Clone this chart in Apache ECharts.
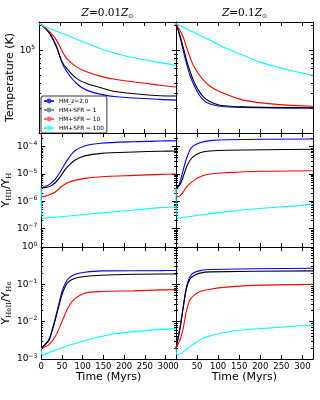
<!DOCTYPE html>
<html><head><meta charset="utf-8">
<script src="https://cdn.jsdelivr.net/npm/echarts@6/dist/echarts.min.js"></script>
<style>html,body{margin:0;padding:0;background:#fff}#c{width:320px;height:400px}</style>
</head><body><div id="c"></div>
<script>
const seriesNames = ['HM_z=2.0', 'HM+SFR = 1', 'HM+SFR = 10', 'HM+SFR = 100'];
const seriesColors = ['#0000ff', '#000000', '#ff0000', '#00ffff'];
const legendColors = ['#3333ff', '#8a8a8a', '#ff6a6a', '#44ffff'];
const xTickLabels = [0, 50, 100, 150, 200, 250, 300];

// Temperature (K), Z = 0.01 Zsun
const tempLow_HM    = [[0,2.1e5],[10,1.95e5],[26,1.58e5],[42,1.09e5],[54,7.2e4],[66,5.5e4],[89,3.97e4],[113,3.3e4],[145,2.95e4],[184,2.74e4],[287,2.55e4],[325,2.5e4]];
const tempLow_SFR1  = [[0,2.1e5],[10,1.95e5],[26,1.58e5],[42,1.09e5],[54,7.4e4],[66,6.0e4],[89,4.57e4],[113,3.97e4],[145,3.55e4],[184,3.15e4],[287,2.82e4],[325,2.8e4]];
const tempLow_SFR10 = [[0,2.1e5],[10,1.97e5],[26,1.66e5],[42,1.32e5],[54,1.0e5],[66,7.94e4],[89,6.3e4],[113,5.5e4],[145,4.87e4],[184,4.43e4],[287,3.78e4],[325,3.6e4]];
const tempLow_SFR100= [[0,2.1e5],[26,1.82e5],[66,1.52e5],[105,1.26e5],[145,1.05e5],[184,9.1e4],[223,8.2e4],[287,7.1e4],[325,6.6e4]];
// Temperature (K), Z = 0.1 Zsun
const tempHigh_HM    = [[0,2.1e5],[9.5,1.45e5],[17,1.0e5],[25,6.9e4],[33,5.0e4],[41,3.97e4],[53,3.0e4],[65,2.5e4],[81,2.24e4],[104,2.11e4],[160,2.04e4],[325,1.99e4]];
const tempHigh_SFR1  = [[0,2.1e5],[9.5,1.51e5],[17,1.09e5],[25,7.6e4],[33,5.63e4],[41,4.36e4],[53,3.3e4],[65,2.74e4],[81,2.38e4],[104,2.17e4],[160,2.07e4],[325,2.02e4]];
const tempHigh_SFR10 = [[0,2.1e5],[9.5,1.74e5],[17,1.45e5],[25,1.09e5],[33,8.3e4],[41,6.6e4],[53,5.24e4],[65,4.36e4],[81,3.68e4],[104,3.15e4],[160,2.5e4],[239,2.22e4],[325,2.11e4]];
const tempHigh_SFR100= [[0,2.1e5],[41,1.66e5],[81,1.32e5],[120,1.05e5],[160,8.7e4],[199,7.2e4],[239,6.3e4],[278,5.63e4],[325,5.0e4]];
// Y_HII / Y_H
const hiiLow_HM    = [[0,3.1e-6],[18,4.0e-6],[34,6.5e-6],[46,1.2e-5],[58,2.45e-5],[70,4.6e-5],[81,7.1e-5],[105,1.06e-4],[145,1.33e-4],[224,1.52e-4],[287,1.61e-4],[325,1.65e-4]];
const hiiLow_SFR1  = [[0,3.1e-6],[18,3.4e-6],[34,4.8e-6],[46,7.9e-6],[58,1.48e-5],[70,2.3e-5],[81,3.2e-5],[105,4.6e-5],[145,5.7e-5],[224,6.4e-5],[287,6.8e-5],[325,6.9e-5]];
const hiiLow_SFR10 = [[0,3.1e-6],[3,1.47e-6],[10,1.55e-6],[18,1.7e-6],[34,2.2e-6],[46,3.2e-6],[58,4.3e-6],[74,5.5e-6],[105,6.9e-6],[145,7.9e-6],[224,8.9e-6],[287,9.7e-6],[325,1.0e-5]];
const hiiLow_SFR100= [[0,3.1e-6],[3,2.4e-7],[15,2.5e-7],[66,2.9e-7],[145,3.8e-7],[224,4.8e-7],[287,5.9e-7],[325,6.2e-7]];
const hiiHigh_HM    = [[0,3.1e-6],[5.5,3.6e-6],[11,6.0e-6],[17,1.4e-5],[25,3.7e-5],[33,7.6e-5],[41,1.07e-4],[57,1.4e-4],[81,1.66e-4],[120,1.8e-4],[325,1.9e-4]];
const hiiHigh_SFR1  = [[0,3.1e-6],[5.5,3.4e-6],[11,4.6e-6],[17,7.9e-6],[25,1.8e-5],[33,3.1e-5],[41,4.3e-5],[57,6.0e-5],[81,6.9e-5],[120,7.4e-5],[325,8.0e-5]];
const hiiHigh_SFR10 = [[0,3.1e-6],[3.5,1.47e-6],[11,1.7e-6],[17,2.2e-6],[25,3.4e-6],[41,5.6e-6],[57,7.9e-6],[81,1.0e-5],[120,1.12e-5],[199,1.26e-5],[325,1.32e-5]];
const hiiHigh_SFR100= [[0,3.1e-6],[3.5,2.4e-7],[15,2.55e-7],[41,2.9e-7],[120,4.2e-7],[199,5.5e-7],[278,6.7e-7],[325,7.9e-7]];
// Y_HeII / Y_He
const heiiLow_HM    = [[0,1.94e-3],[18,3.2e-3],[26,6.0e-3],[34,1.23e-2],[42,2.8e-2],[50,6.4e-2],[58,0.106],[66,0.145],[82,0.186],[105,0.21],[145,0.23],[287,0.233],[325,0.235]];
const heiiLow_SFR1  = [[0,1.94e-3],[18,3.1e-3],[26,5.4e-3],[34,1.12e-2],[42,2.5e-2],[50,5.2e-2],[58,8.7e-2],[66,0.117],[82,0.145],[105,0.162],[145,0.175],[224,0.186],[287,0.19],[325,0.19]];
const heiiLow_SFR10 = [[0,1.94e-3],[18,2.4e-3],[34,4.0e-3],[50,1.0e-2],[66,2.5e-2],[82,4.2e-2],[105,5.8e-2],[145,6.4e-2],[224,6.7e-2],[287,7.1e-2],[325,7.2e-2]];
const heiiLow_SFR100= [[0,1.94e-3],[3,1.28e-3],[26,1.6e-3],[66,2.3e-3],[105,3.1e-3],[145,4.0e-3],[184,4.8e-3],[224,5.4e-3],[287,6.2e-3],[325,6.5e-3]];
const heiiHigh_HM    = [[0,1.94e-3],[5.5,4.0e-3],[11,9.0e-3],[17,2.5e-2],[25,8.7e-2],[33,0.16],[41,0.2],[57,0.233],[81,0.25],[325,0.27]];
const heiiHigh_SFR1  = [[0,1.94e-3],[5.5,3.8e-3],[11,8.1e-3],[17,2.3e-2],[25,7.9e-2],[33,0.138],[41,0.168],[57,0.2],[81,0.215],[325,0.23]];
const heiiHigh_SFR10 = [[0,1.94e-3],[5.5,2.6e-3],[11,3.6e-3],[17,6.6e-3],[25,2.0e-2],[33,3.8e-2],[41,4.9e-2],[57,6.4e-2],[81,7.4e-2],[120,8.4e-2],[199,9.5e-2],[325,0.1]];
const heiiHigh_SFR100= [[0,1.94e-3],[3.5,1.28e-3],[25,1.82e-3],[41,2.48e-3],[65,3.6e-3],[89,4.4e-3],[120,5.3e-3],[160,6.0e-3],[199,6.5e-3],[278,7.5e-3],[325,8.0e-3]];

const panelSeries = [
  [[tempLow_HM, tempLow_SFR1, tempLow_SFR10, tempLow_SFR100], [tempHigh_HM, tempHigh_SFR1, tempHigh_SFR10, tempHigh_SFR100]],
  [[hiiLow_HM, hiiLow_SFR1, hiiLow_SFR10, hiiLow_SFR100], [hiiHigh_HM, hiiHigh_SFR1, hiiHigh_SFR10, hiiHigh_SFR100]],
  [[heiiLow_HM, heiiLow_SFR1, heiiLow_SFR10, heiiLow_SFR100], [heiiHigh_HM, heiiHigh_SFR1, heiiHigh_SFR10, heiiHigh_SFR100]]
];

const FONT = 'DejaVu Sans';
const rows = [
  {min: 1e4, max: 2.2e5, top: 22, height: 111, showEnds: false},
  {min: 2.14e-8, max: 3.16e-4, top: 133, height: 114, showEnds: false},
  {min: 1e-3, max: 1, top: 247, height: 112, showEnds: true}
];
const cols = [{left: 39, width: 137}, {left: 176, width: 137}];
const yNames = [
  '{a|Temperature (K)}',
  '{a|Y}{b|HII}{a|/Y}{b|H}',
  '{a|Y}{b|HeII}{a|/Y}{b|He}'
];

function minorTicks(min, max) {
  const out = [];
  for (let d = Math.floor(Math.log10(min)); d <= Math.ceil(Math.log10(max)); d++) {
    for (let m = 2; m <= 9; m++) {
      const v = m * Math.pow(10, d);
      if (v > min && v < max) out.push(v);
    }
  }
  return out;
}
function supLabel(v) {
  const e = Math.round(Math.log10(v));
  return '{b|10}{s|' + (e < 0 ? '\u2212' + (-e) : e) + '}';
}

const grids = [], xAxes = [], yAxes = [], series = [];
const axisLine = {show: true, lineStyle: {color: '#000', width: 1}};
rows.forEach((row, r) => {
  cols.forEach((col, c) => {
    const g = grids.length;
    grids.push({left: col.left, width: col.width, top: row.top, height: row.height});
    const bottomRow = r === rows.length - 1;
    xAxes.push({
      type: 'value', gridIndex: g, min: 0, max: 325, interval: 50, position: 'bottom',
      axisLine, splitLine: {show: false},
      axisTick: {show: true, inside: true, length: 4, lineStyle: {color: '#000'}},
      axisLabel: {show: bottomRow, showMaxLabel: false, fontSize: 8.5, fontFamily: FONT, color: '#000', margin: 3},
      name: bottomRow ? 'Time (Myrs)' : '', nameLocation: 'middle', nameGap: 13,
      nameTextStyle: {fontSize: 11, fontFamily: FONT, color: '#000'}
    });
    xAxes.push({
      type: 'value', gridIndex: g, min: 0, max: 325, interval: 50, position: 'top',
      axisLine, splitLine: {show: false},
      axisTick: {show: true, inside: true, length: 4, lineStyle: {color: '#000'}},
      axisLabel: {show: false}
    });
    const yBase = yAxes.length;
    yAxes.push({
      type: 'log', logBase: 10, gridIndex: g, min: row.min, max: row.max, position: 'left',
      axisLine, splitLine: {show: false},
      axisTick: {show: true, inside: true, length: 4, lineStyle: {color: '#000'}},
      axisLabel: {
        show: c === 0, showMinLabel: row.showEnds, showMaxLabel: row.showEnds, margin: 4,
        formatter: supLabel,
        rich: {
          b: {fontSize: 9, fontFamily: FONT, color: '#000'},
          s: {fontSize: 6, fontFamily: FONT, color: '#000', padding: [0, 0, 6, 0]}
        }
      },
      name: c === 0 ? yNames[r] : '', nameLocation: 'middle', nameRotate: 90, nameGap: 20,
      nameTextStyle: {
        rich: {
          a: {fontSize: 11, fontFamily: FONT, color: '#000'},
          b: {fontSize: 7, fontFamily: 'DejaVu Serif', color: '#000', padding: [6, 0, 0, 0]}
        }
      }
    });
    yAxes.push({
      type: 'log', logBase: 10, gridIndex: g, min: row.min, max: row.max, position: 'left',
      axisLine: {show: false}, splitLine: {show: false}, axisLabel: {show: false},
      axisTick: {show: true, inside: true, length: 2, customValues: minorTicks(row.min, row.max), lineStyle: {color: '#000'}}
    });
    yAxes.push({
      type: 'log', logBase: 10, gridIndex: g, min: row.min, max: row.max, position: 'right',
      axisLine, splitLine: {show: false}, axisLabel: {show: false},
      axisTick: {show: true, inside: true, length: 4, lineStyle: {color: '#000'}}
    });
    yAxes.push({
      type: 'log', logBase: 10, gridIndex: g, min: row.min, max: row.max, position: 'right',
      axisLine: {show: false}, splitLine: {show: false}, axisLabel: {show: false},
      axisTick: {show: true, inside: true, length: 2, customValues: minorTicks(row.min, row.max), lineStyle: {color: '#000'}}
    });
    panelSeries[r][c].forEach((data, k) => {
      series.push({
        type: 'line', name: seriesNames[k], xAxisIndex: 2 * g, yAxisIndex: yBase,
        data: data, showSymbol: false, symbol: 'none', smooth: 0.3,
        lineStyle: {color: seriesColors[k], width: 1.1}, itemStyle: {color: seriesColors[k]},
        silent: true, z: 2 + k
      });
    });
  });
});

const titleRich = {
  i: {fontSize: 10.5, fontFamily: 'DejaVu Serif', fontStyle: 'italic', color: '#000'},
  n: {fontSize: 10.5, fontFamily: 'DejaVu Serif', color: '#000'},
  s: {fontSize: 6, fontFamily: 'DejaVu Sans', color: '#000', padding: [6, 0, 0, 0]}
};
const chart = echarts.init(document.getElementById('c'), null, {renderer: 'canvas'});
chart.setOption({
  animation: false,
  backgroundColor: '#fff',
  grid: grids, xAxis: xAxes, yAxis: yAxes, series: series,
  legend: {
    left: 41, top: 96, orient: 'vertical',
    data: seriesNames.map((n, k) => ({name: n, lineStyle: {color: legendColors[k], width: 2}, itemStyle: {color: legendColors[k]}})),
    itemWidth: 10, itemHeight: 6, itemGap: 3, padding: [2, 3, 2, 2],
    borderColor: '#000', borderWidth: 0.8, borderRadius: 2, backgroundColor: '#fff',
    textStyle: {fontSize: 5.8, fontFamily: FONT, color: '#000'},
    selectedMode: false
  },
  graphic: [
    {type: 'text', x: 107.5, y: 13, style: {text: '{i|Z}{n|=0.01}{i|Z}{s|\u2299}', rich: titleRich, align: 'center', verticalAlign: 'middle'}},
    {type: 'text', x: 244.5, y: 13, style: {text: '{i|Z}{n|=0.1}{i|Z}{s|\u2299}', rich: titleRich, align: 'center', verticalAlign: 'middle'}}
  ]
});
</script>
</body></html>
